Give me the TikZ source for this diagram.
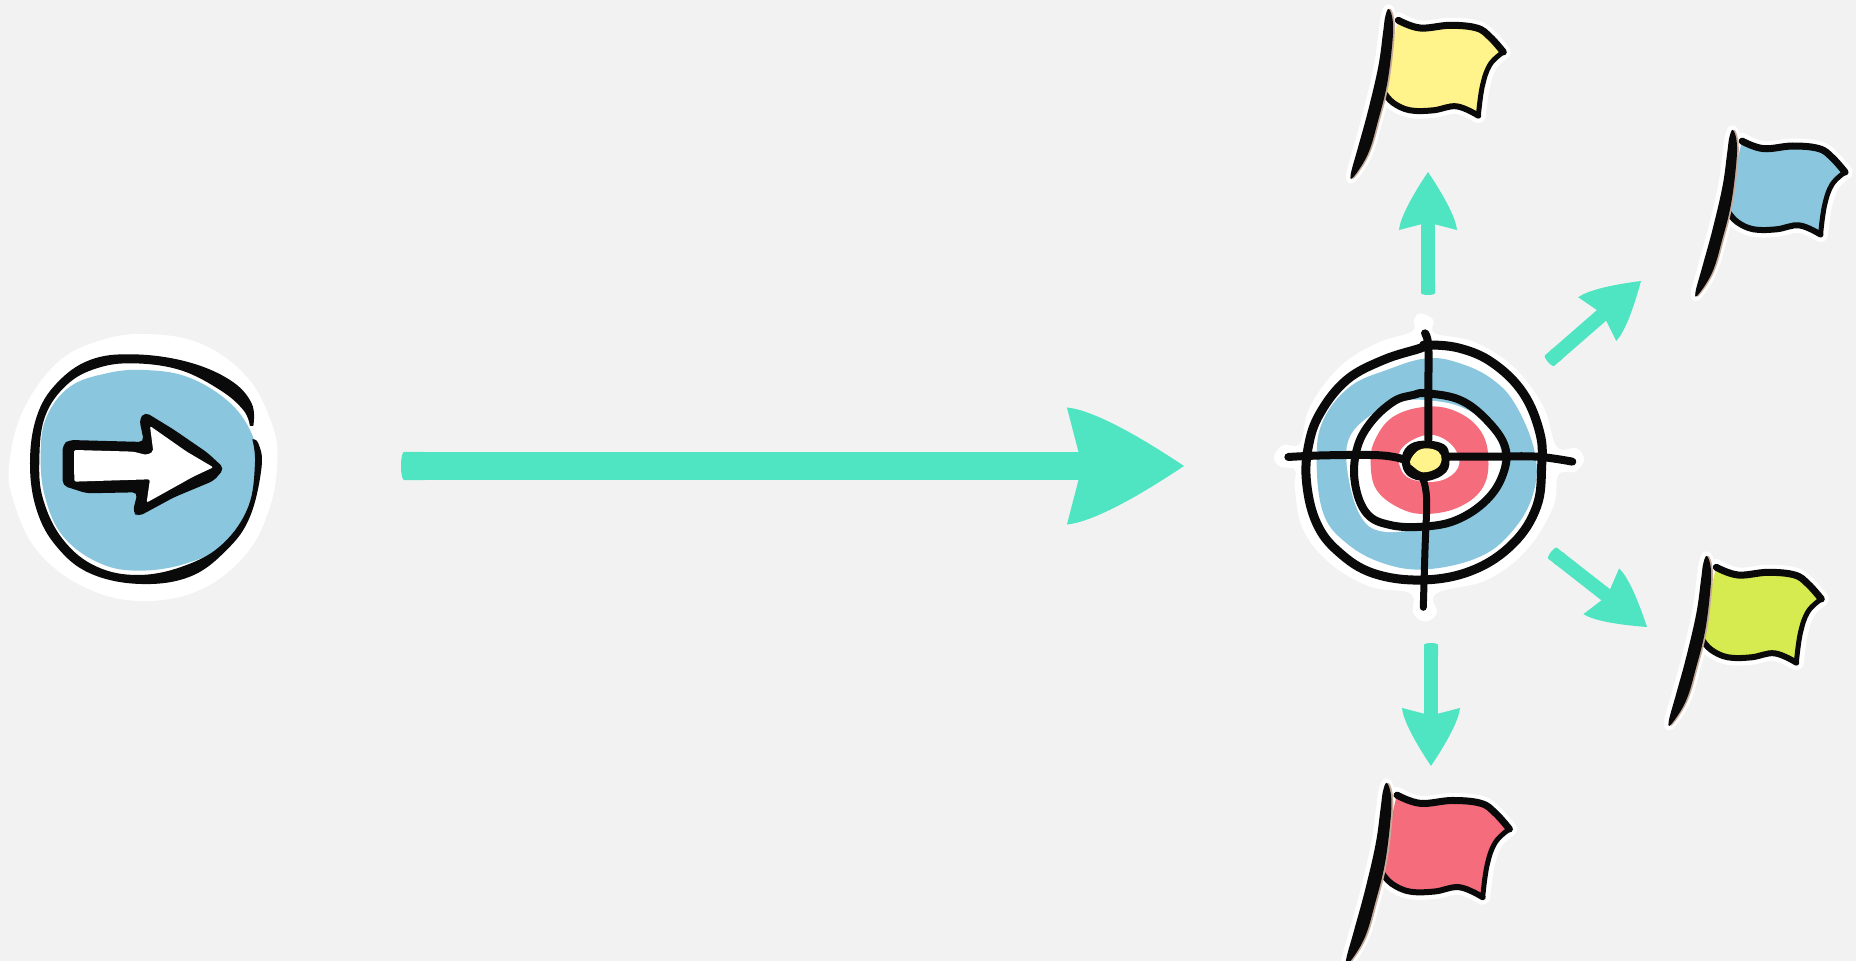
\documentclass[tikz,border=0pt]{standalone}
\usepackage{xcolor}
\definecolor{tgback}{RGB}{242,242,242}
\definecolor{tgteal}{RGB}{80,229,194}
\definecolor{tgblue}{RGB}{139,198,223}
\definecolor{tgred}{RGB}{245,108,125}
\definecolor{tgyellow}{RGB}{255,243,139}
\definecolor{tglime}{RGB}{213,235,80}
\definecolor{tgink}{RGB}{10,10,10}
\definecolor{tgpole}{RGB}{200,170,155}
\usetikzlibrary{arrows.meta,positioning}
\pgfdeclarearrow{
  name=Sail,
  parameters={\the\pgfarrowlength},
  setup code={
    \pgfarrowssettipend{\pgfarrowlength}
    \pgfarrowssetbackend{0pt}
    \pgfarrowssetlineend{.2\pgfarrowlength}
    \pgfarrowssetvisualbackend{.1\pgfarrowlength}
    \pgfarrowssavethe\pgfarrowlength
  },
  drawing code={
    \pgfpathmoveto{\pgfqpoint{\pgfarrowlength}{0pt}}
    \pgfpathcurveto{\pgfqpoint{.55\pgfarrowlength}{.3\pgfarrowlength}}{\pgfqpoint{.2\pgfarrowlength}{.48\pgfarrowlength}}{\pgfqpoint{0pt}{.5\pgfarrowlength}}
    \pgfpathlineto{\pgfqpoint{.13\pgfarrowlength}{0pt}}
    \pgfpathlineto{\pgfqpoint{0pt}{-.5\pgfarrowlength}}
    \pgfpathcurveto{\pgfqpoint{.2\pgfarrowlength}{-.48\pgfarrowlength}}{\pgfqpoint{.55\pgfarrowlength}{-.3\pgfarrowlength}}{\pgfqpoint{\pgfarrowlength}{0pt}}
    \pgfpathclose
    \pgfusepathqfill
  },
  defaults={length=.58cm}
}
\newcommand{\flagcloth}{plot[smooth] coordinates {(175,60) (240,85) (330,77) (410,85) (450,112) (490,157)}
  -- plot[smooth] coordinates {(490,157) (450,195) (427,260) (415,348)}
  -- plot[smooth] coordinates {(415,348) (350,320) (280,332) (210,332) (160,310) (133,280)}
  -- plot[smooth] coordinates {(133,280) (150,170) (175,60)} -- cycle}
\newcommand{\flagpole}{plot[smooth cycle] coordinates {(147,28) (159,70) (155,150) (140,260) (115,360) (85,460) (42,530) (32,525) (55,440) (85,330) (115,200) (129,100) (136,50)}}
\tikzset{
  pics/flag/.style={code={
    \begin{scope}[shift={(-147,-28)}]
      \draw[white,line width=.15cm,line join=round] \flagcloth;
      \draw[white,line width=.09cm,line join=round] \flagpole;
      \fill[#1] \flagcloth;
      \draw[tgink,line width=.07cm,line cap=round] plot[smooth] coordinates {(175,62) (240,85) (330,77) (410,85) (450,112) (490,157)};
      \draw[tgink,line width=.05cm,line cap=round] plot[smooth] coordinates {(490,157) (450,195) (427,260) (415,348)};
      \draw[tgink,line width=.06cm,line cap=round] plot[smooth] coordinates {(415,348) (350,320) (280,332) (210,332) (160,310) (133,280)};
      \fill[tgpole,xshift=1.5] \flagpole;
      \fill[tgink] \flagpole;
    \end{scope}
  }}
}
\begin{document}
\begin{tikzpicture}[x=.01cm,y=-.01cm,tension=.65,
  halo/.style={fill=white},
  ink/.style={draw=tgink,line cap=round,line join=round},
  pointer/.style={{Round Cap[length=.02cm]}-{Sail},tgteal,line width=.14cm}]
  \fill[tgback] (0,0) rectangle (1856,961);
  \useasboundingbox (0,0) rectangle (1856,961);
  % Start badge
  \begin{scope}[shift={(0,320)},scale=.3333]
    \fill[halo] plot[smooth cycle] coordinates {(430,42) (600,70) (740,170) (815,310) (832,420) (810,560) (740,700) (600,810) (420,843) (250,800) (110,690) (40,540) (28,430) (70,270) (170,130) (290,65)};
    \fill[tgblue] plot[smooth cycle] coordinates {(430,150) (560,170) (680,240) (750,330) (768,420) (750,560) (680,670) (560,730) (420,752) (300,730) (190,650) (135,530) (122,400) (140,290) (210,200) (320,160)};
    \fill[tgink] plot[smooth] coordinates {(760,318) (755,250) (690,180) (560,125) (400,103) (270,120) (170,190) (110,290) (90,430) (110,570) (170,680) (270,760) (420,792) (570,770) (680,690) (750,590) (785,440) (775,370) (757,358)}
      -- plot[smooth] coordinates {(757,358) (765,430) (745,560) (670,670) (560,735) (420,765) (290,740) (190,660) (130,540) (118,420) (135,290) (200,195) (290,145) (400,130) (540,150) (660,210) (730,270) (750,318)} -- cycle;
    \fill[tgink,rounded corners=.05cm] (188,373) -- (208,360) -- (432,366) -- (418,298) -- (435,276) -- (520,328) -- (622,398) -- (673,445) -- (642,482) -- (522,532) -- (415,590) -- (398,577) -- (413,517) -- (260,520) -- (188,497) -- cycle;
    \fill[white,rounded corners=.02cm] (222,390) -- (400,395) -- (440,405) -- (460,395) -- (450,318) -- (560,395) -- (640,442) -- (580,470) -- (440,548) -- (450,478) -- (223,485) -- cycle;
  \end{scope}
  % Target
  \begin{scope}[shift={(1260,300)},scale=.3333]
    \fill[halo] plot[smooth cycle] coordinates {(480,40) (520,60) (525,100) (640,125) (760,200) (850,320) (890,440) (950,445) (972,480) (945,515) (895,525) (880,620) (800,750) (680,840) (530,880) (530,940) (495,965) (460,940) (450,880) (330,860) (210,790) (130,690) (105,570) (105,510) (60,500) (42,470) (70,435) (120,430) (150,320) (240,200) (350,130) (455,95) (462,60)};
    \fill[tgblue] plot[smooth cycle] coordinates {(500,175) (600,190) (700,240) (770,320) (825,460) (820,580) (760,690) (660,770) (500,808) (370,790) (260,730) (190,640) (170,480) (190,360) (270,260) (380,210)};
    \fill[white] plot[smooth cycle] coordinates {(490,300) (600,320) (690,380) (725,470) (700,560) (620,640) (500,680) (370,695) (300,645) (262,510) (270,410) (340,340) (410,305)};
    \fill[tgred] plot[smooth cycle] coordinates {(500,320) (590,335) (660,390) (685,470) (670,560) (600,620) (500,642) (420,625) (350,570) (332,490) (345,420) (400,350)};
    \fill[white] plot[smooth cycle] coordinates {(500,405) (570,430) (598,490) (560,535) (490,545) (430,520) (422,450)};
    \draw[ink,line width=.09cm] plot[smooth cycle] coordinates {(500,135) (600,145) (700,190) (790,280) (840,400) (845,500) (830,620) (760,730) (640,810) (490,840) (340,820) (235,755) (170,670) (140,550) (145,440) (180,340) (260,240) (370,180) (480,145)};
    \draw[ink,line width=.08cm] plot[smooth cycle] coordinates {(500,280) (600,300) (680,360) (735,440) (730,520) (680,600) (590,660) (490,680) (390,675) (320,640) (285,550) (290,450) (330,370) (400,305) (460,285)};
    \draw[ink,line width=.08cm] plot[smooth] coordinates {(495,100) (505,140) (505,280) (505,420)};
    \draw[ink,line width=.08cm] plot[smooth] coordinates {(85,471) (200,466) (360,466) (430,478)};
    \draw[ink,line width=.08cm] plot[smooth] coordinates {(565,470) (700,470) (830,470) (937,485)};
    \draw[ink,line width=.07cm] plot[smooth] coordinates {(490,540) (500,600) (495,750) (490,922)};
    \fill[tgink] plot[smooth cycle] coordinates {(490,422) (552,433) (568,470) (558,517) (500,543) (443,527) (425,480) (443,438)};
    \fill[tgyellow] plot[smooth cycle] coordinates {(500,445) (535,455) (545,480) (530,505) (490,517) (460,500) (450,485) (470,455)};
  \end{scope}
  % Flags
  \pic[scale=.3333] (flagtop) at (1389,9) {flag=tgyellow};
  \pic[scale=.3267] (flagupper) at (1733,130) {flag=tgblue};
  \pic[scale=.3333] (flaglower) at (1707,556) {flag=tglime};
  \pic[scale=.3570] (flagbottom) at (1387,783) {flag=tgred};
  % Arrows
  \coordinate (mainstart) at (401,466);
  \coordinate (mainend) at (1184,466);
  \coordinate (upstart) at (1428,295);
  \coordinate (upend) at (1428,172);
  \coordinate (ristart) at (1548,362);
  \coordinate (riend) at (1641,281);
  \coordinate (lostart) at (1551,552);
  \coordinate (loend) at (1647,627);
  \coordinate (dnstart) at (1431,643);
  \coordinate (dnend) at (1431,766);
  \draw[{Round Cap[length=.03cm]}-{Sail[length=1.17cm]},tgteal,line width=.28cm] (mainstart) -- (mainend);
  \draw[pointer] (upstart) -- (upend);
  \draw[pointer] (ristart) -- (riend);
  \draw[pointer] (lostart) -- (loend);
  \draw[pointer] (dnstart) -- (dnend);
\end{tikzpicture}
\end{document}
